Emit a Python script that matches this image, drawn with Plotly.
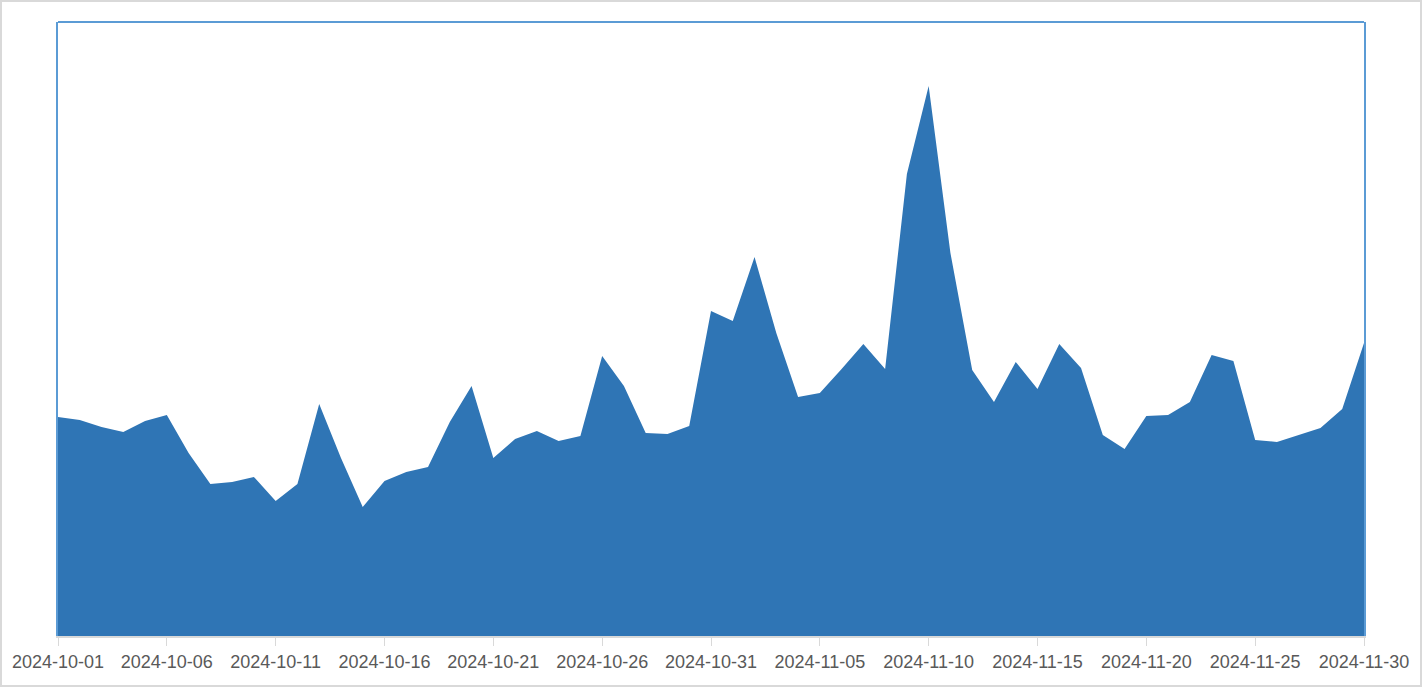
import pandas as pd
import plotly.graph_objects as go

# Daily values (Oct 1 - Nov 30, 2024), arbitrary units
start_date = "2024-10-01"
end_date = "2024-11-30"
values = [
    219, 216, 209, 204, 215, 221, 183, 152, 154, 159,
    135, 152, 232, 178, 129, 155, 164, 169, 214, 250,
    178, 197, 205, 195, 200, 280, 250, 203, 202, 210,
    325, 315, 379, 303, 239, 243, 267, 292, 267, 462,
    550, 383, 266, 234, 274, 247, 292, 268, 201, 187,
    220, 221, 234, 281, 275, 196, 194, 201, 208, 227,
    293,
]
dates = pd.date_range(start_date, end_date, freq="D")

W, H = 1422, 687
ML, MR, MT, MB = 58, 58, 22, 51
PW, PH = W - ML - MR, H - MT - MB

fig = go.Figure()
fig.add_trace(go.Scatter(
    x=dates, y=values, mode="lines", fill="tozeroy",
    line=dict(width=0, color="#2f75b5"),
    fillcolor="#2f75b5", hoverinfo="x+y", showlegend=False,
))

def px_to_paper_x(px):
    return (px - ML) / PW

def px_to_paper_y(py):
    return (H - MB - py) / PH

fig.update_layout(
    width=W, height=H,
    margin=dict(l=ML, r=MR, t=MT, b=MB, pad=0),
    paper_bgcolor="white", plot_bgcolor="white",
    font=dict(family="Liberation Sans, Arial, sans-serif", size=18, color="#595959"),
    xaxis=dict(
        range=[dates[0], dates[-1]],
        tick0=start_date, dtick=5 * 24 * 3600 * 1000,
        tickformat="%Y-%m-%d",
        showgrid=False, zeroline=False,
        showline=True, linecolor="#d9d9d9", linewidth=2,
        ticks="outside", ticklen=8, tickcolor="#d9d9d9", tickwidth=1,
        tickfont=dict(size=18, color="#595959"),
    ),
    yaxis=dict(
        range=[0, 614],
        showgrid=False, zeroline=False, showticklabels=False,
        showline=True, linecolor="#5b9bd5", linewidth=2, mirror=True,
        ticks="",
    ),
    shapes=[
        dict(type="line", xref="paper", yref="paper", x0=0, x1=1, y0=1, y1=1,
             line=dict(color="#5b9bd5", width=2), layer="above"),
        dict(type="rect", xref="paper", yref="paper",
             x0=px_to_paper_x(1), x1=px_to_paper_x(W - 1),
             y0=px_to_paper_y(H - 1), y1=px_to_paper_y(1),
             line=dict(color="#d9d9d9", width=2), fillcolor="rgba(0,0,0,0)",
             layer="above"),
    ],
)

fig.write_html("out.html", config={"displayModeBar": False})

# remove default page margins so the figure sits at the window origin
with open("out.html", "r", encoding="utf-8") as f:
    html = f.read()
html = html.replace("<body>", '<body style="margin:0;padding:0;overflow:hidden">', 1)
with open("out.html", "w", encoding="utf-8") as f:
    f.write(html)
